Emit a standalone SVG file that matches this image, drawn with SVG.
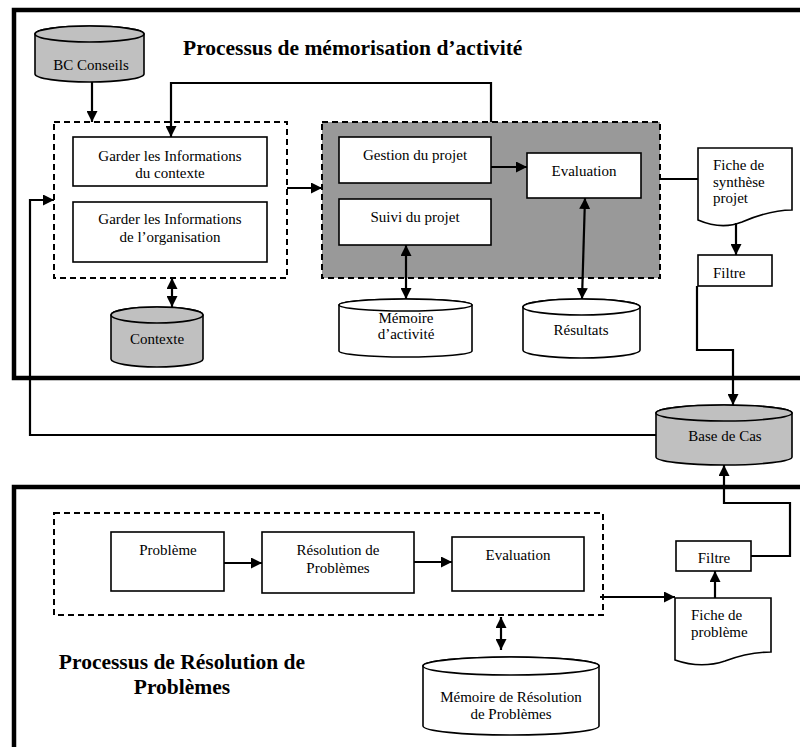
<svg xmlns="http://www.w3.org/2000/svg" width="800" height="747" viewBox="0 0 800 747">
<defs>
<marker id="ah" viewBox="0 0 10 10" refX="10" refY="5" markerWidth="11" markerHeight="11" markerUnits="userSpaceOnUse" orient="auto-start-reverse">
<path d="M0,0 L10,5 L0,10 z" fill="#000"/>
</marker>
<style>
text{font-family:"Liberation Serif","Times New Roman",serif;font-size:15px;fill:#000}
.c{text-anchor:middle}
.title{font-size:21.5px;font-weight:bold}
.box{fill:#fff;stroke:#000;stroke-width:1.6}
.dash{stroke:#000;stroke-width:2;stroke-dasharray:6 4}
.frame{fill:none;stroke:#000;stroke-width:4.5}
.cyl{stroke:#000;stroke-width:1.6}
.grey{fill:#c0c0c0}
.white{fill:#fff}
.conn path{fill:none;stroke:#000;stroke-width:2.2}
.one{marker-end:url(#ah)}
.two{marker-start:url(#ah);marker-end:url(#ah)}
</style>
</defs>
<rect width="800" height="747" fill="#fff"/>

<g id="frames">
<path class="frame" d="M800,10 H14 V378 H800"/>
<path class="frame" d="M800,487 H14 V747"/>
</g>

<g id="title-top"><text class="title" x="183" y="55">Processus de mémorisation d’activité</text></g>
<g id="title-bottom"><text class="title c" x="182" y="669">Processus de Résolution de</text><text class="title c" x="182" y="694">Problèmes</text></g>

<g id="group-contexte"><rect x="54" y="122" width="233" height="156" fill="none" class="dash"/></g>
<g id="group-projet"><rect x="322" y="122" width="338" height="156" fill="#999999" class="dash"/></g>
<g id="group-resolution"><rect x="54" y="513" width="549" height="102" fill="none" class="dash"/></g>

<g id="bc-conseils">
<path class="cyl grey" d="M35,34 A54.5,8 0 0 1 144,34 V74 A54.5,8 0 0 1 35,74 Z"/>
<ellipse class="cyl grey" cx="89.5" cy="34" rx="54.5" ry="8"/>
<text class="c" x="91" y="70">BC Conseils</text>
</g>

<g id="garder-contexte">
<rect class="box" x="73" y="137" width="194" height="49"/>
<text class="c" x="170" y="161">Garder les Informations</text>
<text class="c" x="170" y="178">du contexte</text>
</g>

<g id="garder-organisation">
<rect class="box" x="73" y="202" width="194" height="60"/>
<text class="c" x="170" y="224">Garder les Informations</text>
<text class="c" x="170" y="242">de l’organisation</text>
</g>

<g id="gestion">
<rect class="box" x="339" y="137" width="152" height="46"/>
<text class="c" x="415" y="160">Gestion du projet</text>
</g>

<g id="suivi">
<rect class="box" x="339" y="199" width="152" height="46"/>
<text class="c" x="415" y="222">Suivi du projet</text>
</g>

<g id="evaluation-top">
<rect class="box" x="527" y="153" width="114" height="45"/>
<text class="c" x="584" y="176">Evaluation</text>
</g>

<g id="fiche-synthese">
<path class="box" d="M698,148 H792 V210 C772,210 756,216 742,222 C727,228 712,226 698,220 Z"/>
<text x="713" y="170">Fiche de</text>
<text x="713" y="187">synthèse</text>
<text x="713" y="203">projet</text>
</g>

<g id="filtre-top">
<rect class="box" x="698" y="255" width="74" height="31"/>
<text x="713" y="278">Filtre</text>
</g>

<g id="contexte">
<path class="cyl grey" d="M111,315 A46,8 0 0 1 203,315 V359 A46,8 0 0 1 111,359 Z"/>
<ellipse class="cyl grey" cx="157" cy="315" rx="46" ry="8"/>
<text class="c" x="157" y="344">Contexte</text>
</g>

<g id="memoire-activite">
<path class="cyl white" d="M339,305 A66.5,6 0 0 1 472,305 V351 A66.5,6 0 0 1 339,351 Z"/>
<ellipse class="cyl white" cx="405.5" cy="305" rx="66.5" ry="6"/>
<text class="c" x="406" y="323">Mémoire</text>
<text class="c" x="406" y="339">d’activité</text>
</g>

<g id="resultats">
<path class="cyl white" d="M523,307 A58.5,8 0 0 1 640,307 V350 A58.5,8 0 0 1 523,350 Z"/>
<ellipse class="cyl white" cx="581.5" cy="307" rx="58.5" ry="8"/>
<text class="c" x="581" y="335">Résultats</text>
</g>

<g id="base-de-cas">
<path class="cyl grey" d="M656,413 A68,8 0 0 1 792,413 V457 A68,8 0 0 1 656,457 Z"/>
<ellipse class="cyl grey" cx="724" cy="413" rx="68" ry="8"/>
<text class="c" x="725" y="441">Base de Cas</text>
</g>

<g id="probleme">
<rect class="box" x="111" y="532" width="113" height="59"/>
<text class="c" x="168" y="555">Problème</text>
</g>

<g id="resolution">
<rect class="box" x="262" y="532" width="152" height="61"/>
<text class="c" x="338" y="555">Résolution de</text>
<text class="c" x="338" y="573">Problèmes</text>
</g>

<g id="evaluation-bottom">
<rect class="box" x="452" y="537" width="132" height="54"/>
<text class="c" x="518" y="560">Evaluation</text>
</g>

<g id="filtre-bottom">
<rect class="box" x="676" y="541" width="75" height="30"/>
<text class="c" x="714" y="563">Filtre</text>
</g>

<g id="fiche-probleme">
<path class="box" d="M675,598 H771 V652 C752,652 738,656 725,661 C710,666 692,666 675,660 Z"/>
<text x="691" y="620">Fiche de</text>
<text x="691" y="637">problème</text>
</g>

<g id="memoire-resolution">
<path class="cyl white" d="M423,666 A88,9 0 0 1 599,666 V726 A88,9 0 0 1 423,726 Z"/>
<ellipse class="cyl white" cx="511" cy="666" rx="88" ry="9"/>
<text class="c" x="511" y="702">Mémoire de Résolution</text>
<text class="c" x="511" y="719">de Problèmes</text>
</g>

<g id="connectors" class="conn">
<path class="one" d="M92,82 V122"/>
<path class="one" d="M491,122 V83 H171 V137"/>
<path class="one" d="M287,188 H322"/>
<path class="one" d="M491,167 H527"/>
<path d="M660,179 H698"/>
<path class="one" d="M736,223 V255"/>
<path class="one" d="M697,286 V350 H733 V405"/>
<path class="one" d="M656,435 H30 V200 H54"/>
<path class="two" d="M172,278 V307"/>
<path class="two" d="M406,245 V299"/>
<path class="two" d="M585,198 L582,299"/>
<path class="one" d="M224,563 H262"/>
<path class="one" d="M414,562 H452"/>
<path class="one" d="M600,597 H675"/>
<path class="one" d="M715,598 V571"/>
<path class="one" d="M751,556 H790 V503 H724 V465"/>
<path class="two" d="M501,617 V650"/>
</g>
</svg>
